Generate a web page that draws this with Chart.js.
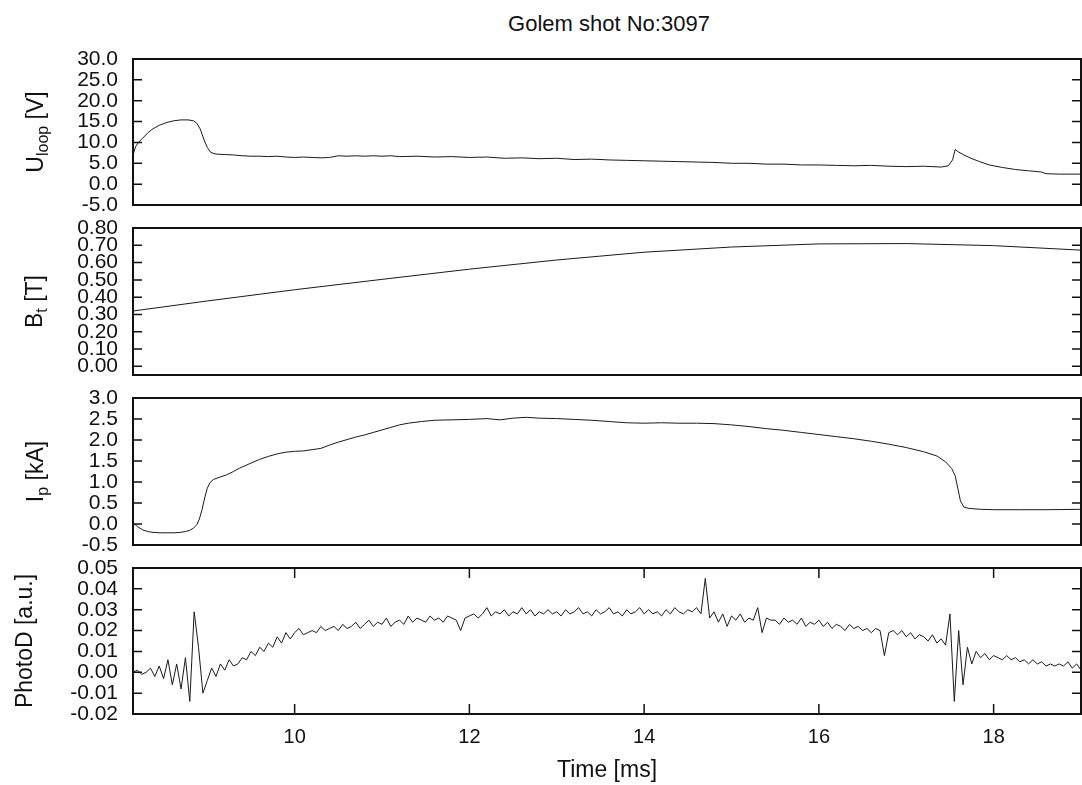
<!DOCTYPE html>
<html>
<head>
<meta charset="utf-8">
<script src="https://cdn.jsdelivr.net/npm/chart.js@4.4.1/dist/chart.umd.min.js"></script>
<style>
  body { margin: 0; background: #fff; }
  #wrap { position: relative; width: 1082px; height: 785px; overflow: hidden; }
  canvas { position: absolute; left: 0; }
  #title { position: absolute; left: 409px; top: 13px; width: 400px; text-align: center;
           font: 22px "Liberation Sans", Arial, sans-serif; line-height: 22px; color: #111; }
</style>
</head>
<body>
<div id="wrap">
  <div id="title">Golem shot No:3097</div>
  <canvas id="cU" width="1082" height="176" style="top:44px"></canvas>
  <canvas id="cB" width="1082" height="177" style="top:213px"></canvas>
  <canvas id="cI" width="1082" height="177" style="top:383px"></canvas>
  <canvas id="cP" width="1082" height="232" style="top:553px"></canvas>
</div>
<script>
// time axis [ms]
const tMin = 8.15;
const tMax = 19.0;
const timeTicks = [10, 12, 14, 16, 18];

// U_loop [V]  (t, value)
const uLoop = [
  [8.15, 7.0], [8.18, 9.0], [8.22, 10.2], [8.26, 11.0], [8.32, 12.3], [8.38, 13.3],
  [8.45, 14.1], [8.54, 14.8], [8.62, 15.2], [8.70, 15.4], [8.78, 15.4], [8.84, 15.2],
  [8.88, 14.6], [8.92, 13.2], [8.96, 10.8], [9.00, 8.8], [9.04, 7.6], [9.10, 7.2],
  [9.20, 7.1], [9.30, 7.0], [9.40, 6.8], [9.50, 6.7], [9.60, 6.7], [9.70, 6.6],
  [9.80, 6.7], [9.90, 6.5], [10.00, 6.4], [10.10, 6.5], [10.20, 6.4], [10.30, 6.3],
  [10.40, 6.4], [10.50, 6.8], [10.60, 6.7], [10.70, 6.8], [10.80, 6.7], [10.90, 6.8],
  [11.00, 6.7], [11.10, 6.8], [11.20, 6.6], [11.40, 6.7], [11.60, 6.5], [11.80, 6.6],
  [12.00, 6.4], [12.20, 6.5], [12.40, 6.2], [12.60, 6.3], [12.80, 6.1], [13.00, 6.2],
  [13.20, 5.9], [13.40, 6.0], [13.60, 5.8], [13.80, 5.7], [14.00, 5.6], [14.20, 5.5],
  [14.40, 5.4], [14.60, 5.3], [14.80, 5.2], [15.00, 5.0], [15.20, 5.0], [15.40, 4.8],
  [15.60, 4.8], [15.80, 4.6], [16.00, 4.6], [16.20, 4.5], [16.40, 4.4], [16.60, 4.5],
  [16.80, 4.3], [17.00, 4.2], [17.20, 4.3], [17.40, 4.1], [17.48, 4.4], [17.53, 5.8],
  [17.56, 8.3], [17.60, 7.7], [17.66, 7.0], [17.74, 6.2], [17.84, 5.4], [17.95, 4.6],
  [18.10, 4.0], [18.25, 3.5], [18.40, 3.2], [18.55, 2.9], [18.60, 2.5], [18.75, 2.4],
  [19.00, 2.4]
];
const uTicks = [-5, 0, 5, 10, 15, 20, 25, 30];

// B_t [T]
const bTor = [
  [8.15, 0.320], [9.0, 0.378], [10.0, 0.443], [11.0, 0.503], [12.0, 0.562], [13.0, 0.615],
  [14.0, 0.660], [15.0, 0.690], [16.0, 0.708], [17.0, 0.710], [18.0, 0.698], [19.0, 0.672]
];
const bTicks = [0, 0.1, 0.2, 0.3, 0.4, 0.5, 0.6, 0.7, 0.8];

// I_p [kA]
const iPlasma = [
  [8.15, 0.03], [8.20, -0.06], [8.26, -0.14], [8.32, -0.18], [8.38, -0.20], [8.46, -0.21],
  [8.54, -0.21], [8.62, -0.21], [8.69, -0.20], [8.75, -0.18], [8.80, -0.15], [8.84, -0.10],
  [8.88, -0.02], [8.91, 0.12], [8.94, 0.34], [8.97, 0.62], [9.00, 0.85], [9.03, 0.98],
  [9.07, 1.06], [9.15, 1.12], [9.22, 1.17], [9.30, 1.25], [9.37, 1.33], [9.50, 1.45],
  [9.60, 1.54], [9.70, 1.61], [9.80, 1.67], [9.90, 1.71], [10.00, 1.73], [10.10, 1.74],
  [10.20, 1.77], [10.30, 1.80], [10.40, 1.88], [10.50, 1.95], [10.60, 2.01], [10.70, 2.07],
  [10.80, 2.12], [10.90, 2.18], [11.00, 2.24], [11.10, 2.30], [11.20, 2.36], [11.30, 2.40],
  [11.45, 2.44], [11.60, 2.47], [11.80, 2.48], [12.00, 2.49], [12.20, 2.51], [12.35, 2.48],
  [12.50, 2.52], [12.65, 2.54], [12.80, 2.52], [13.00, 2.51], [13.20, 2.49], [13.40, 2.47],
  [13.60, 2.44], [13.80, 2.41], [14.00, 2.40], [14.20, 2.41], [14.40, 2.40], [14.60, 2.40],
  [14.80, 2.39], [15.00, 2.36], [15.20, 2.32], [15.40, 2.27], [15.60, 2.23], [15.80, 2.18],
  [16.00, 2.13], [16.20, 2.08], [16.40, 2.03], [16.60, 1.97], [16.80, 1.90], [17.00, 1.82],
  [17.20, 1.72], [17.35, 1.62], [17.45, 1.48], [17.52, 1.32], [17.56, 1.15], [17.59, 0.85],
  [17.62, 0.55], [17.66, 0.40], [17.72, 0.37], [17.85, 0.35], [18.00, 0.34], [18.30, 0.34],
  [18.60, 0.34], [19.00, 0.35]
];
const iTicks = [-0.5, 0, 0.5, 1.0, 1.5, 2.0, 2.5, 3.0];

// PhotoD [a.u.], sampled every 0.05 ms from 8.15 ms
const photoStart = 8.15;
const photoStep = 0.05;
const photoD = [
  0.000, 0.001, -0.001, 0.000, 0.002, -0.002, 0.003, -0.003, 0.006, -0.006,   // 8.15
  0.004, -0.008, 0.007, -0.014, 0.029, 0.012, -0.010, -0.004, 0.002, -0.002,  // 8.65
  0.004, 0.001, 0.006, 0.003, 0.004, 0.007, 0.006, 0.010, 0.008, 0.012,      // 9.15
  0.010, 0.014, 0.012, 0.017, 0.014, 0.019, 0.016, 0.019, 0.021, 0.018,      // 9.65
  0.019, 0.020, 0.019, 0.022, 0.020, 0.021, 0.022, 0.020, 0.023, 0.021,      // 10.15
  0.022, 0.024, 0.021, 0.023, 0.025, 0.022, 0.024, 0.023, 0.026, 0.022,      // 10.65
  0.024, 0.025, 0.023, 0.027, 0.024, 0.026, 0.025, 0.024, 0.027, 0.025,      // 11.15
  0.026, 0.024, 0.027, 0.026, 0.025, 0.020, 0.026, 0.027, 0.028, 0.026,      // 11.65
  0.028, 0.031, 0.027, 0.029, 0.028, 0.030, 0.027, 0.029, 0.028, 0.031,      // 12.15
  0.028, 0.030, 0.027, 0.029, 0.028, 0.030, 0.028, 0.029, 0.027, 0.030,      // 12.65
  0.028, 0.029, 0.031, 0.028, 0.029, 0.027, 0.030, 0.028, 0.029, 0.031,      // 13.15
  0.028, 0.029, 0.027, 0.030, 0.028, 0.029, 0.031, 0.028, 0.030, 0.028,      // 13.65
  0.029, 0.027, 0.030, 0.028, 0.031, 0.029, 0.028, 0.030, 0.029, 0.031,      // 14.15
  0.028, 0.045, 0.026, 0.029, 0.024, 0.028, 0.022, 0.027, 0.025, 0.028,      // 14.65
  0.024, 0.026, 0.025, 0.031, 0.019, 0.026, 0.025, 0.025, 0.023, 0.026,      // 15.15
  0.024, 0.025, 0.023, 0.026, 0.022, 0.024, 0.023, 0.025, 0.022, 0.024,      // 15.65
  0.021, 0.023, 0.022, 0.020, 0.023, 0.021, 0.022, 0.020, 0.021, 0.019,      // 16.15
  0.021, 0.020, 0.008, 0.019, 0.020, 0.018, 0.020, 0.017, 0.019, 0.016,      // 16.65
  0.018, 0.017, 0.015, 0.018, 0.014, 0.016, 0.013, 0.028, -0.014, 0.020,     // 17.15
  -0.006, 0.012, 0.004, 0.010, 0.007, 0.009, 0.006, 0.008, 0.007, 0.006,     // 17.65
  0.008, 0.006, 0.007, 0.005, 0.006, 0.004, 0.006, 0.004, 0.005, 0.003,      // 18.15
  0.004, 0.003, 0.004, 0.003, 0.005, 0.002, 0.004, 0.001                     // 18.65
];
const pTicks = [-0.02, -0.01, 0, 0.01, 0.02, 0.03, 0.04, 0.05];

Chart.defaults.font.family = '"Liberation Sans", Arial, sans-serif';
Chart.defaults.color = '#111';

// gnuplot-like box with inward ticks
const gnuFrame = {
  id: 'gnuFrame',
  afterDatasetsDraw(chart, args, opts) {
    const { ctx, chartArea: a, scales } = chart;
    ctx.save();
    ctx.strokeStyle = '#111';
    ctx.lineWidth = 1.5;
    ctx.beginPath();
    scales.y.ticks.forEach(t => {
      const py = scales.y.getPixelForValue(t.value);
      ctx.moveTo(a.left, py); ctx.lineTo(a.left + 9, py);
      ctx.moveTo(a.right, py); ctx.lineTo(a.right - 9, py);
    });
    if (opts.xTicks) {
      scales.x.ticks.forEach(t => {
        const px = scales.x.getPixelForValue(t.value);
        ctx.moveTo(px, a.bottom); ctx.lineTo(px, a.bottom - 10);
        ctx.moveTo(px, a.top); ctx.lineTo(px, a.top + 10);
      });
    }
    ctx.stroke();
    ctx.lineWidth = 2;
    ctx.strokeRect(a.left, a.top, a.right - a.left, a.bottom - a.top);
    ctx.restore();
  }
};

// rotated y label with subscript
const yLabel = {
  id: 'yLabel',
  afterDraw(chart, args, o) {
    const { ctx, chartArea: a } = chart;
    const big = '23px "Liberation Sans", Arial, sans-serif';
    const small = '16px "Liberation Sans", Arial, sans-serif';
    ctx.save();
    ctx.fillStyle = '#111';
    ctx.font = big;
    const w1 = ctx.measureText(o.main).width;
    const w3 = ctx.measureText(o.rest).width;
    ctx.font = small;
    const w2 = o.sub ? ctx.measureText(o.sub).width : 0;
    ctx.translate(o.x, (a.top + a.bottom) / 2);
    ctx.rotate(-Math.PI / 2);
    ctx.textBaseline = 'alphabetic';
    let x = -(w1 + w2 + w3) / 2;
    ctx.font = big; ctx.fillText(o.main, x, 0); x += w1;
    if (o.sub) { ctx.font = small; ctx.fillText(o.sub, x, 5); x += w2; }
    ctx.font = big; ctx.fillText(o.rest, x, 0);
    ctx.restore();
  }
};

function makePanel(id, points, yMin, yMax, ticks, digits, label, bottom) {
  const xScale = {
    type: 'linear', min: tMin, max: tMax, display: !!bottom,
    afterBuildTicks: s => { s.ticks = timeTicks.map(v => ({ value: v })); },
    grid: { display: false, drawTicks: false },
    border: { display: false },
    ticks: { padding: 11, font: { size: 20 }, color: '#111', callback: v => String(v) },
    title: { display: !!bottom, text: 'Time [ms]', font: { size: 23 }, color: '#111',
             padding: { top: 0, bottom: 1 } }
  };
  if (bottom) xScale.afterFit = s => { s.height = 71; s.paddingLeft = 0; s.paddingRight = 0; };
  return new Chart(document.getElementById(id), {
    type: 'line',
    data: {
      datasets: [{
        data: points.map(p => ({ x: p[0], y: p[1] })),
        borderColor: '#1a1a1a',
        borderWidth: 1,
        pointRadius: 0,
        tension: 0
      }]
    },
    options: {
      responsive: false,
      animation: false,
      events: [],
      layout: { padding: { top: 15, bottom: bottom ? 0 : 15, left: 0, right: 1 } },
      scales: {
        x: xScale,
        y: {
          min: yMin, max: yMax,
          afterBuildTicks: s => { s.ticks = ticks.map(v => ({ value: v })); },
          afterFit: s => { s.width = 133; s.paddingTop = 0; s.paddingBottom = 0; },
          grid: { display: false, drawTicks: false },
          border: { display: false },
          ticks: { autoSkip: false, padding: 15, font: { size: 21 }, color: '#111',
                   callback: v => v.toFixed(digits) }
        }
      },
      plugins: {
        legend: { display: false },
        tooltip: { enabled: false },
        gnuFrame: { xTicks: !!bottom },
        yLabel: label
      }
    },
    plugins: [gnuFrame, yLabel]
  });
}

const photoPts = photoD.map((v, i) => [photoStart + i * photoStep, v]);

makePanel('cU', uLoop, -5, 30, uTicks, 1, { main: 'U', sub: 'loop', rest: ' [V]', x: 43 }, false);
makePanel('cB', bTor, -0.05, 0.8, bTicks, 2, { main: 'B', sub: 't', rest: ' [T]', x: 42 }, false);
makePanel('cI', iPlasma, -0.5, 3.0, iTicks, 1, { main: 'I', sub: 'p', rest: ' [kA]', x: 43 }, false);
makePanel('cP', photoPts, -0.02, 0.05, pTicks, 2, { main: 'PhotoD [a.u.]', sub: '', rest: '', x: 32 }, true);
</script>
</body>
</html>
